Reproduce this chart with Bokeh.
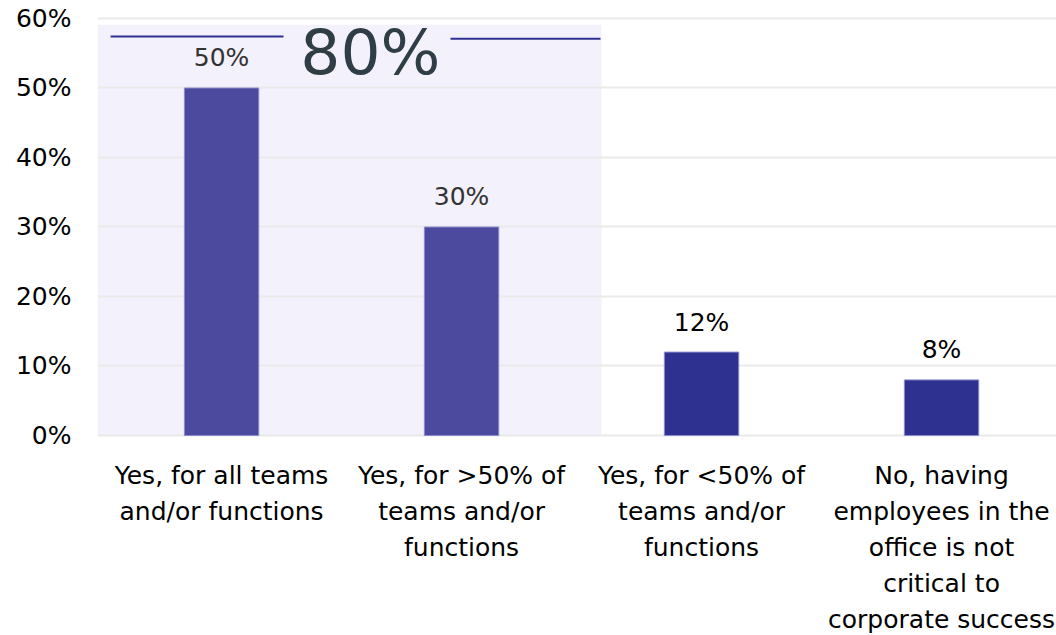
from bokeh.plotting import figure
from bokeh.models import ColumnDataSource, FixedTicker, PrintfTickFormatter, Range1d
from bokeh.core.properties import value
from bokeh.embed import file_html
from bokeh.resources import INLINE

categories = [
    "Yes, for all teams\nand/or functions",
    "Yes, for >50% of\nteams and/or\nfunctions",
    "Yes, for <50% of\nteams and/or\nfunctions",
    "No, having\nemployees in the\noffice is not\ncritical to\ncorporate success",
]
values = [50, 30, 12, 8]
value_labels = ["50%", "30%", "12%", "8%"]
highlight_total = "80%"
y_ticks = [0, 10, 20, 30, 40, 50, 60]

bar_colors = ["#4B4A9E", "#4B4A9E", "#2E3190", "#2E3190"]
label_colors = ["#333333", "#333333", "#000000", "#000000"]
FONT = "DejaVu Sans"

xs = list(range(len(categories)))
src = ColumnDataSource(dict(x=xs, top=values, lab=value_labels, cat=categories,
                            fill=bar_colors, lc=label_colors))

p = figure(width=1056, height=635, output_backend="svg", toolbar_location=None,
           x_range=Range1d(-0.517, 3.479), y_range=Range1d(-28.78, 62.59),
           x_axis_location=None, min_border_left=97, min_border_right=0,
           min_border_top=0, min_border_bottom=0)
p.outline_line_color = None
p.xgrid.visible = False
p.ygrid.ticker = FixedTicker(ticks=y_ticks)
p.ygrid.grid_line_color = "#EAEAEA"
p.ygrid.grid_line_width = 2

ax = p.yaxis[0]
ax.ticker = FixedTicker(ticks=y_ticks)
ax.formatter = PrintfTickFormatter(format="%d%%")
ax.axis_line_color = None
ax.major_tick_line_color = None
ax.minor_tick_line_color = None
ax.major_label_standoff = 20
ax.major_label_text_font = FONT
ax.major_label_text_font_size = "25px"
ax.major_label_text_color = "#000000"

# highlight band behind first two categories
p.quad(left=-0.517, right=1.583, bottom=0, top=59.1, fill_color="#F3F1FC",
       line_color=None, level="underlay")

p.vbar(x="x", top="top", width=0.31, bottom=0, fill_color="fill",
       line_color="#8C8CCC", line_width=1, source=src)

p.text(x="x", y="top", text="lab", source=src, y_offset=-30,
       text_align="center", text_baseline="middle", text_font=value(FONT),
       text_font_size="25px", text_color="lc")

p.text(x="x", y=-3.6, text="cat", source=src, text_align="center",
       text_baseline="top", text_font=value(FONT), text_font_size="25px",
       text_color="#000000", text_line_height=1.245)

# "80%" annotation
p.segment(x0=[-0.4625, 0.954], x1=[0.258, 1.579], y0=[57.4, 57.1], y1=[57.4, 57.1],
          line_color="#2E3192", line_width=2)
p.text(x=[0.62], y=[55.1], text=[highlight_total], text_align="center",
       text_baseline="middle", text_font=value(FONT), text_font_size="63px",
       text_color="#2F3E46")

open("out.html", "w").write(file_html(p, INLINE))
